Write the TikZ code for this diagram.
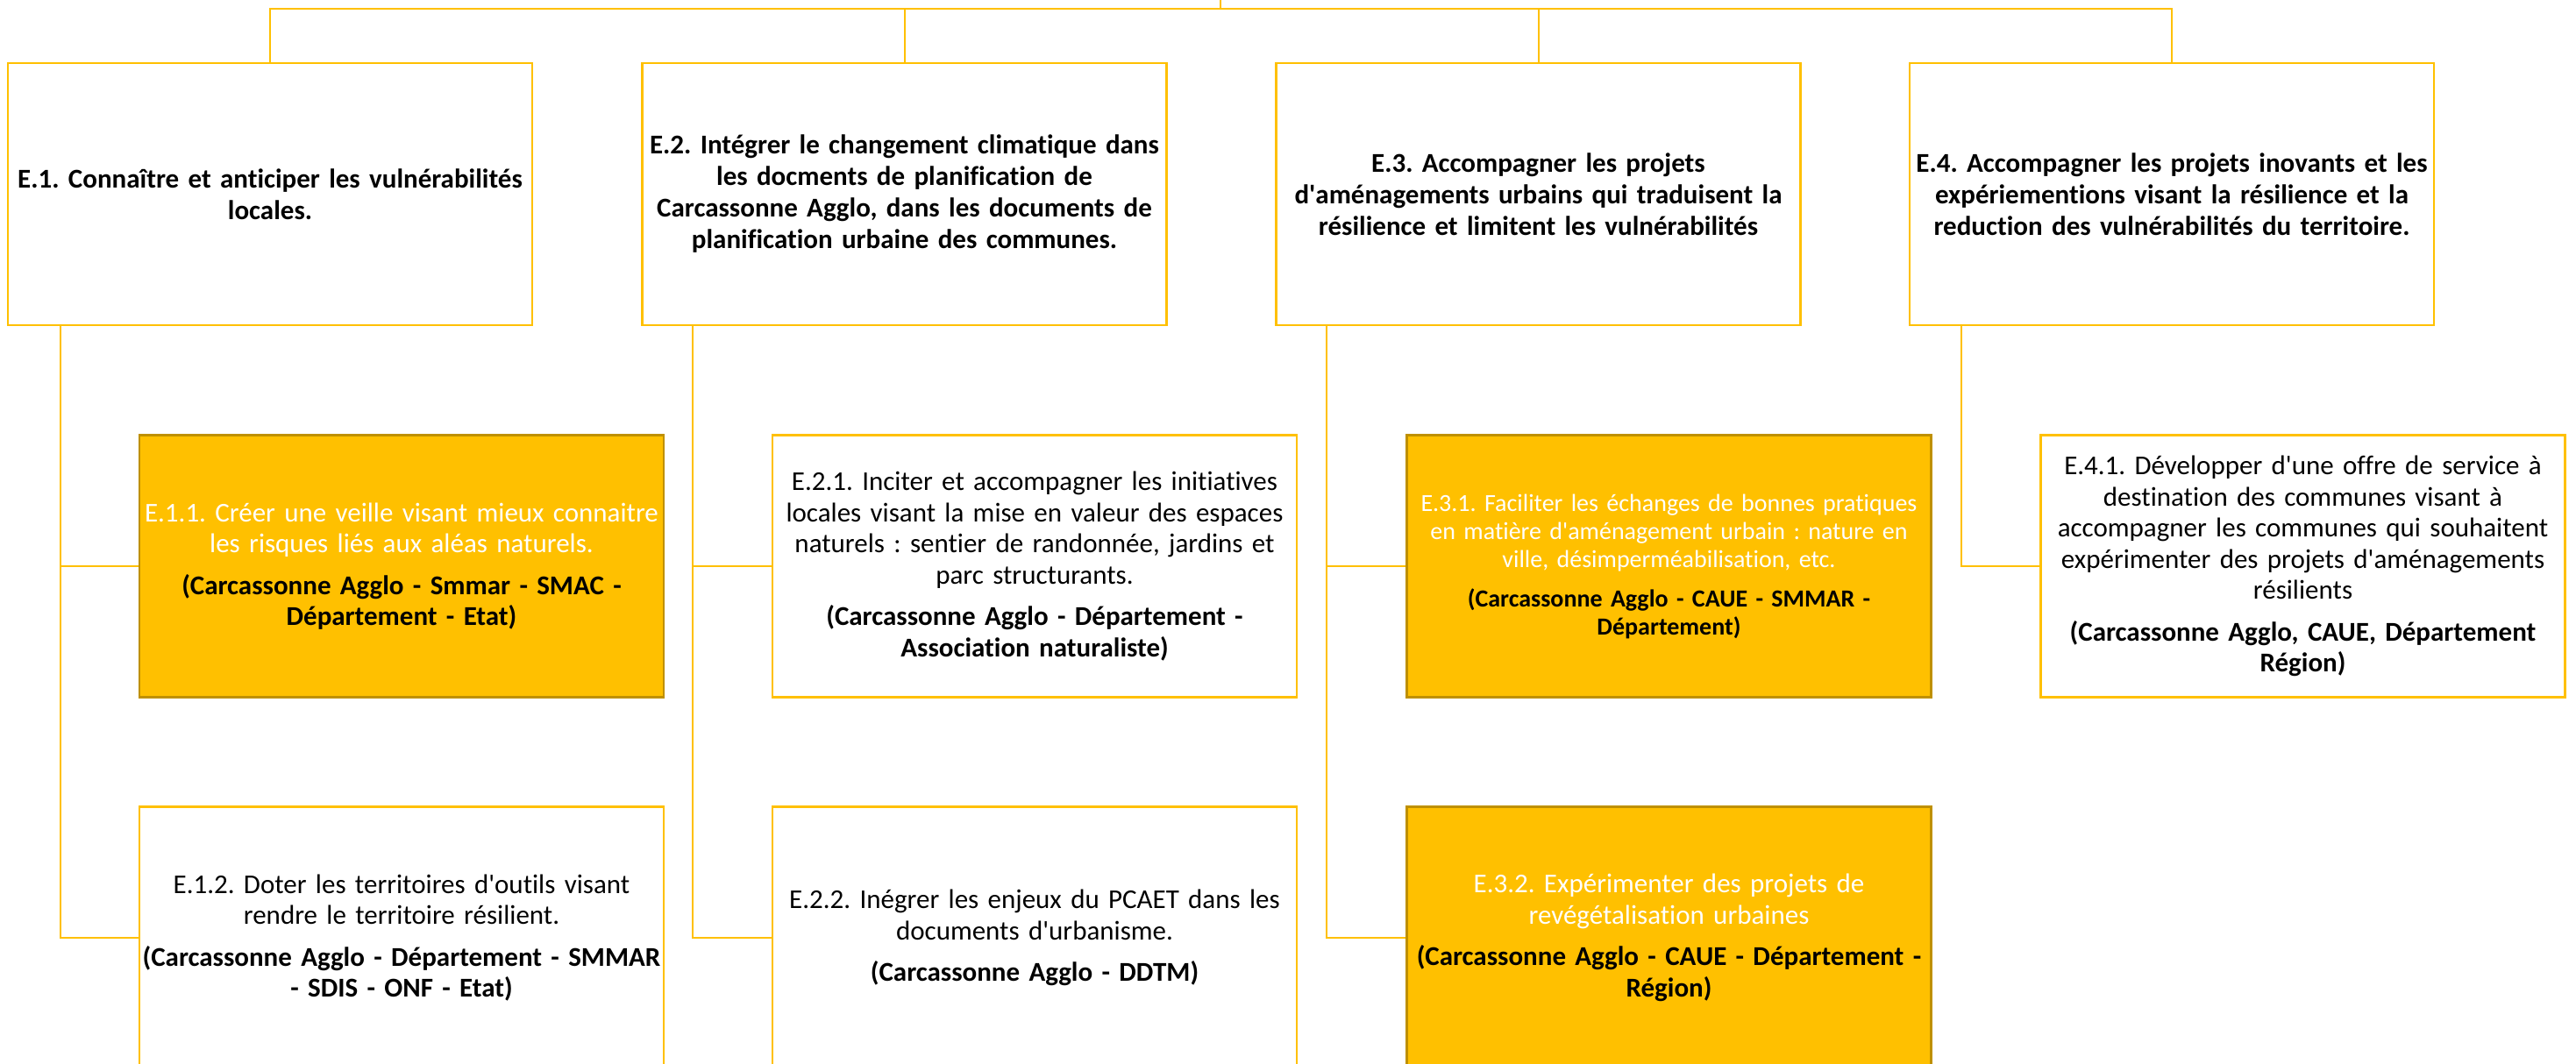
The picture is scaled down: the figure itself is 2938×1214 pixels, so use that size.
\documentclass[tikz,border=0pt]{standalone}
\usepackage{fontspec}
\setmainfont{Carlito}[Ligatures=NoCommon]
\definecolor{gold}{HTML}{FFC000}
\definecolor{darkgold}{HTML}{BF9000}
\newcommand{\ap}{\textquotesingle}
\begin{document}
\frenchspacing
\begin{tikzpicture}[x=1pt,y=-1pt,
  box/.style={draw=gold, line width=2.5pt, fill=white, minimum width=598pt, minimum height=299pt,
    text width=598pt, inner xsep=0pt, inner ysep=0pt, align=center, text=black},
  topbox/.style={box, font=\fontsize{31}{36}\selectfont\bfseries},
  subbox/.style={box, font=\fontsize{31}{35.5}\selectfont},
  fillbox/.style={subbox, fill=gold, draw=darkgold, text=white},
  conn/.style={draw=gold, line width=2pt}]
\useasboundingbox (0,0) rectangle (2938,1214);
\clip (0,0) rectangle (2938,1214);
\fill[white] (0,0) rectangle (2938,1214);

\coordinate (root) at (1392,0);
\coordinate (bus) at (1392,10);

\node[topbox] (E1) at (308,221.5) {E.1. Connaître et anticiper les vulnérabilités\\locales.};
\node[topbox] (E2) at (1031.5,221.5) {E.2. Intégrer le changement climatique dans\\les docments de planification de\\Carcassonne Agglo, dans les documents de\\planification urbaine des communes.};
\node[topbox] (E3) at (1754.5,221.5) {E.3. Accompagner les projets\\d\ap aménagements urbains qui traduisent la\\résilience et limitent les vulnérabilités};
\node[topbox] (E4) at (2477,221.5) {E.4. Accompagner les projets inovants et les\\expériementions visant la résilience et la\\reduction des vulnérabilités du territoire.};

\node[fillbox] (E11) at (458,646) {E.1.1. Créer une veille visant mieux connaitre\\les risques liés aux aléas naturels.\\[12pt]\textcolor{black}{\bfseries (Carcassonne Agglo - Smmar - SMAC -}\\\textcolor{black}{\bfseries Département - Etat)}};
\node[subbox] (E21) at (1180,646) {E.2.1. Inciter et accompagner les initiatives\\locales visant la mise en valeur des espaces\\naturels : sentier de randonnée, jardins et\\parc structurants.\\[12pt]{\bfseries (Carcassonne Agglo - Département -}\\{\bfseries Association naturaliste)}};
\node[fillbox, font=\fontsize{28}{32}\selectfont] (E31) at (1903.5,646) {E.3.1. Faciliter les échanges de bonnes pratiques\\en matière d\ap aménagement urbain : nature en\\ville, désimperméabilisation, etc.\\[13pt]\textcolor{black}{\bfseries (Carcassonne Agglo - CAUE - SMMAR -}\\\textcolor{black}{\bfseries Département)}};
\node[subbox] (E41) at (2626.5,646) {E.4.1. Développer d\ap une offre de service à\\destination des communes visant à\\accompagner les communes qui souhaitent\\expérimenter des projets d\ap aménagements\\résilients\\[12pt]{\bfseries (Carcassonne Agglo, CAUE, Département}\\{\bfseries Région)}};

\node[subbox] (E12) at (458,1070) {E.1.2. Doter les territoires d\ap outils visant\\rendre le territoire résilient.\\[12pt]{\bfseries (Carcassonne Agglo - Département - SMMAR}\\{\bfseries - SDIS - ONF - Etat)}};
\node[subbox] (E22) at (1180,1070) {E.2.2. Inégrer les enjeux du PCAET dans les\\documents d\ap urbanisme.\\[12pt]{\bfseries (Carcassonne Agglo - DDTM)}};
\node[fillbox] (E32) at (1903.5,1070) {E.3.2. Expérimenter des projets de\\revégétalisation urbaines\\[12pt]\textcolor{black}{\bfseries (Carcassonne Agglo - CAUE - Département -}\\\textcolor{black}{\bfseries Région)}};

\draw[conn] (root) -- (bus);
\draw[conn] (bus) -| (E1.north);
\draw[conn] (bus) -| (E2.north);
\draw[conn] (bus) -| (E3.north);
\draw[conn] (bus) -| (E4.north);

\draw[conn] ([xshift=61pt]E1.south west) |- (E11.west);
\draw[conn] ([xshift=61pt]E1.south west) |- (E12.west);
\draw[conn] ([xshift=59pt]E2.south west) |- (E21.west);
\draw[conn] ([xshift=59pt]E2.south west) |- (E22.west);
\draw[conn] ([xshift=59pt]E3.south west) |- (E31.west);
\draw[conn] ([xshift=59pt]E3.south west) |- (E32.west);
\draw[conn] ([xshift=60pt]E4.south west) |- (E41.west);
\end{tikzpicture}
\end{document}
